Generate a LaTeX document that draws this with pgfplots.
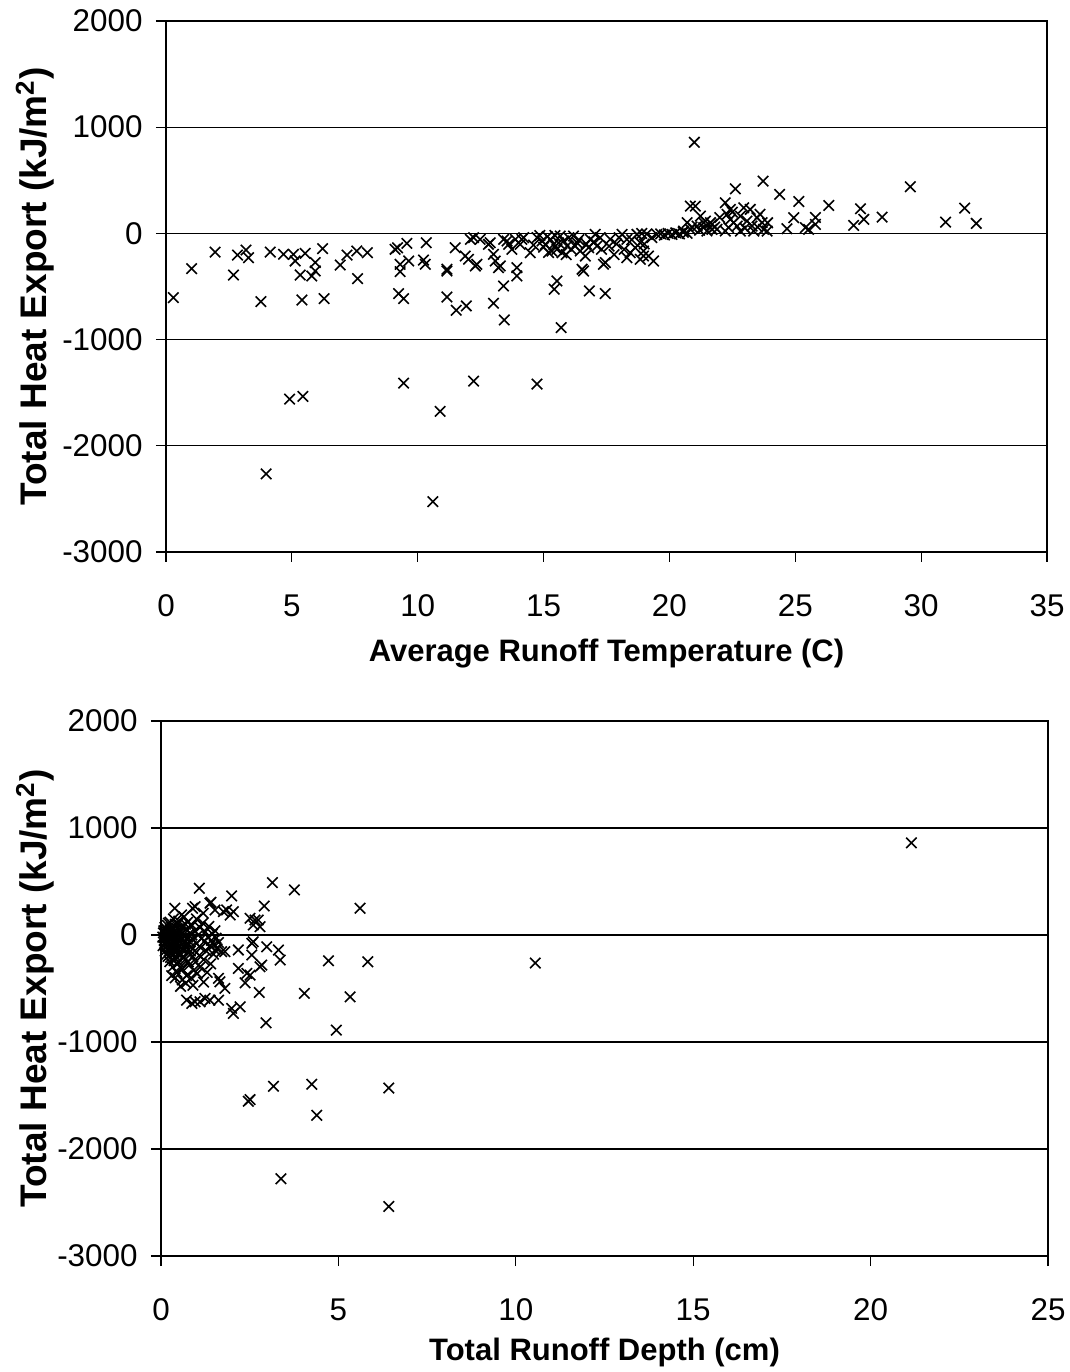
\documentclass[border=0pt]{standalone}
\usepackage{fontspec}
\setmainfont{Liberation Sans}
\usepackage{pgfplots}
\pgfplotsset{compat=1.18}
\pgfplotsset{
  heatstyle/.style={
    scale only axis, anchor=south west,
    axis line style={black, line width=1bp},
    tick align=outside, major tick length=5bp,
    tick style={black, line width=0.6bp},
    xtick pos=left, ytick pos=left,
    ymajorgrids, grid style={black, line width=0.6bp},
    ymin=-3000, ymax=2000, ytick={-3000,-2000,...,2000},
    /pgf/number format/assume math mode=true,
    /pgf/number format/1000 sep={},
    tick label style={font=\fontsize{15.7bp}{18bp}\selectfont},
    yticklabel style={anchor=east, inner sep=0pt, xshift=-6.5bp},
    xticklabel style={anchor=center, inner sep=0pt, yshift=-22bp},
    label style={font=\bfseries\fontsize{15.5bp}{18bp}\selectfont},
    clip=false,
  },
  xmark/.style={only marks, mark=x, mark size=3.7bp, line width=0.8bp, black},
}
\begin{document}
\begin{tikzpicture}
\path[use as bounding box] (0,0) rectangle (535bp,686bp);
\begin{axis}[heatstyle,
  at={(83bp,410bp)}, width=440.5bp, height=265.5bp,
  xmin=0, xmax=35, xtick={0,5,...,35},
  xlabel={Average Runoff Temperature (C)},
  xlabel style={at={(axis description cs:0.5,-0.192)}, anchor=center},
  ylabel={Total Heat Export (kJ/m\textsuperscript{2})},
  ylabel style={at={(axis description cs:-0.1487,0.5)}, anchor=center, font=\bfseries\fontsize{18.5bp}{22bp}\selectfont},
]
\addplot[xmark] table[row sep=\\] {
x y\\
0.29 -605\\ 1.02 -332\\ 1.95 -176\\ 2.68 -392\\ 2.84 -204\\ 3.18 -157\\ 3.28 -229\\ 3.77 -642\\
3.98 -2265\\ 4.14 -176\\ 4.67 -197\\ 4.91 -1560\\ 5.06 -197\\ 5.13 -260\\ 5.33 -392\\ 5.40 -627\\
5.44 -1535\\ 5.53 -188\\ 5.79 -401\\ 5.93 -275\\ 5.93 -354\\ 6.22 -144\\ 6.28 -614\\ 6.92 -298\\
7.19 -204\\ 7.58 -166\\ 7.61 -426\\ 8.00 -182\\ 9.10 -150\\ 9.20 -135\\ 9.24 -567\\ 9.30 -291\\
9.30 -360\\ 9.44 -614\\ 9.44 -1410\\ 9.57 -94\\ 9.64 -260\\ 10.23 -251\\ 10.30 -291\\ 10.34 -88\\
10.60 -2526\\ 10.89 -1676\\ 11.16 -354\\ 11.16 -599\\ 11.16 -338\\ 11.49 -135\\ 11.53 -724\\ 11.89 -213\\
11.93 -683\\ 12.02 -244\\ 12.09 -56\\ 12.22 -40\\ 12.22 -1391\\ 12.29 -307\\ 12.35 -291\\ 12.48 -56\\
12.81 -103\\ 12.88 -88\\ 13.01 -197\\ 13.01 -658\\ 13.08 -260\\ 13.21 -323\\ 13.28 -307\\ 13.41 -56\\
13.41 -495\\ 13.44 -815\\ 13.55 -72\\ 13.61 -103\\ 13.74 -150\\ 13.88 -56\\ 13.94 -323\\ 13.94 -401\\
14.07 -103\\ 14.14 -56\\ 14.21 -40\\ 14.47 -182\\ 14.74 -40\\ 14.74 -1419\\ 14.94 -72\\ 15.07 -103\\
15.27 -56\\ 15.33 -166\\ 15.40 -103\\ 15.42 -526\\ 15.53 -150\\ 15.53 -448\\ 15.66 -25\\ 15.70 -887\\
15.73 -182\\ 15.80 -72\\ 15.93 -119\\ 16.19 -25\\ 16.33 -88\\ 16.46 -166\\ 16.53 -338\\ 16.59 -354\\
16.66 -213\\ 16.79 -135\\ 16.82 -542\\ 16.86 -56\\ 17.05 -9\\ 17.12 -119\\ 17.25 -40\\ 17.38 -291\\
17.45 -567\\ 17.45 -275\\ 17.65 -56\\ 18.12 -9\\ 18.31 -56\\ 18.31 -229\\ 18.44 -182\\ 18.64 -135\\
18.71 -9\\ 18.84 -88\\ 18.84 -244\\ 18.90 0\\ 18.97 -166\\ 18.97 -213\\ 19.10 -5\\ 19.17 -213\\
19.37 -260\\ 19.50 -10\\ 19.65 -5\\ 19.80 -15\\ 19.95 0\\ 20.10 -10\\ 20.25 5\\ 20.40 -5\\
20.55 10\\ 20.70 0\\ 20.56 22\\ 20.70 101\\ 20.83 38\\ 20.83 257\\ 20.99 858\\ 21.03 257\\
21.10 69\\ 21.23 163\\ 21.36 54\\ 21.36 101\\ 21.43 116\\ 21.49 22\\ 21.63 101\\ 21.69 38\\
21.69 85\\ 21.89 38\\ 22.22 22\\ 22.22 288\\ 22.29 179\\ 22.35 54\\ 22.42 132\\ 22.42 226\\
22.55 101\\ 22.62 420\\ 22.69 69\\ 22.82 163\\ 22.82 22\\ 22.95 241\\ 23.08 116\\ 23.21 226\\
23.28 69\\ 23.35 22\\ 23.48 148\\ 23.68 101\\ 23.72 492\\ 23.74 38\\ 23.88 22\\ 24.38 367\\
24.67 44\\ 24.94 148\\ 25.14 300\\ 25.40 54\\ 25.53 38\\ 25.80 150\\ 25.80 85\\ 26.33 263\\
27.32 75\\ 27.59 232\\ 27.72 132\\ 28.45 153\\ 29.57 439\\ 30.97 106\\ 31.73 238\\ 32.19 94\\
14.85 -20\\ 15.00 -130\\ 15.15 -30\\ 15.60 -90\\ 16.00 -40\\ 16.10 -150\\ 16.40 -60\\ 16.70 -100\\
17.00 -80\\ 17.30 -150\\ 17.60 -120\\ 17.90 -100\\ 18.00 -40\\ 18.50 -60\\ 19.00 -100\\ 19.30 -40\\
18.20 -150\\ 17.80 -200\\ 21.80 60\\ 22.00 150\\ 23.00 50\\ 23.50 60\\ 23.90 100\\ 21.20 30\\
20.90 60\\ 22.50 200\\ 23.60 180\\ 15.20 -180\\ 15.90 -200\\ 16.25 -120\\ 14.60 -110\\ 15.45 -20\\
};
\end{axis}
\begin{axis}[heatstyle,
  at={(80.5bp,58bp)}, width=443.5bp, height=267.5bp,
  xmin=0, xmax=25, xtick={0,5,...,25},
  xlabel={Total Runoff Depth (cm)},
  xlabel style={at={(axis description cs:0.5,-0.18)}, anchor=center},
  ylabel={Total Heat Export (kJ/m\textsuperscript{2})},
  ylabel style={at={(axis description cs:-0.142,0.5)}, anchor=center, font=\bfseries\fontsize{18.5bp}{22bp}\selectfont},
]
\addplot[xmark] table[row sep=\\] {
x y\\
0.05 -20\\ 0.08 40\\ 0.10 -80\\ 0.12 10\\ 0.12 -150\\ 0.15 60\\ 0.15 -30\\ 0.18 -100\\
0.18 90\\ 0.20 -10\\ 0.20 -200\\ 0.22 30\\ 0.22 -60\\ 0.25 120\\ 0.25 -130\\ 0.25 -250\\
0.28 0\\ 0.28 -40\\ 0.30 70\\ 0.30 -90\\ 0.30 -170\\ 0.32 20\\ 0.33 -300\\ 0.35 -20\\
0.35 150\\ 0.35 -60\\ 0.38 40\\ 0.38 -120\\ 0.40 -220\\ 0.40 100\\ 0.42 -10\\ 0.42 -160\\
0.45 60\\ 0.45 -80\\ 0.45 -350\\ 0.48 10\\ 0.48 -40\\ 0.50 -260\\ 0.50 130\\ 0.52 -110\\
0.55 30\\ 0.55 -190\\ 0.58 -30\\ 0.58 80\\ 0.60 -140\\ 0.60 -320\\ 0.62 0\\ 0.65 -70\\
0.65 170\\ 0.68 -230\\ 0.70 50\\ 0.70 -120\\ 0.72 -380\\ 0.75 -20\\ 0.75 120\\ 0.78 -170\\
0.80 -60\\ 0.80 -280\\ 0.82 20\\ 0.85 -110\\ 0.85 -400\\ 0.88 90\\ 0.90 -40\\ 0.90 -200\\
0.92 -330\\ 0.95 40\\ 0.95 -150\\ 0.98 -250\\ 1.00 -80\\ 1.00 150\\ 1.02 -360\\ 1.05 0\\
1.08 -190\\ 1.10 70\\ 1.10 -300\\ 1.12 -120\\ 1.15 -30\\ 1.18 110\\ 1.20 -230\\ 1.22 -60\\
1.25 30\\ 1.28 -150\\ 1.30 -350\\ 1.32 -20\\ 1.35 80\\ 1.38 -100\\ 1.40 -270\\ 1.42 -50\\
1.45 10\\ 1.48 -180\\ 1.50 -90\\ 1.52 40\\ 1.55 -30\\ 1.58 -130\\ 1.62 -70\\ 0.60 -420\\
0.90 -470\\ 0.70 -450\\ 1.20 -440\\ 0.40 -400\\ 0.30 -380\\ 0.55 -480\\
0.06 -100\\ 0.07 20\\ 0.09 -50\\ 0.11 70\\ 0.13 -120\\ 0.14 -10\\ 0.16 -180\\ 0.17 30\\
0.19 -70\\ 0.21 110\\ 0.23 -150\\ 0.24 -20\\ 0.26 50\\ 0.27 -210\\ 0.29 -110\\ 0.31 -30\\
0.34 -140\\ 0.36 60\\ 0.37 -240\\ 0.39 -80\\ 0.41 20\\ 0.43 -200\\ 0.44 -120\\ 0.46 -20\\
0.47 100\\ 0.49 -170\\ 0.51 -60\\ 0.53 40\\ 0.54 -300\\ 0.57 -120\\ 0.59 20\\ 0.63 -200\\
0.66 -20\\ 0.69 100\\ 0.73 -80\\ 0.77 -250\\ 0.83 -150\\ 0.87 0\\
1.08 437\\ 3.14 490\\ 3.76 421\\ 5.61 250\\ 1.99 365\\ 1.41 306\\ 0.89 250\\ 2.91 271\\
1.85 234\\ 1.95 187\\ 2.04 218\\ 2.51 156\\ 2.65 140\\ 2.74 140\\ 2.79 78\\ 2.60 94\\
0.39 250\\ 0.58 187\\ 0.96 265\\ 1.19 203\\ 1.52 234\\ 1.80 -156\\ 2.18 -140\\ 2.60 -63\\
2.98 -110\\ 3.31 -140\\ 3.36 -234\\ 2.56 -187\\ 2.79 -297\\ 2.84 -281\\ 2.18 -312\\ 2.42 -359\\
2.51 -375\\ 2.37 -447\\ 1.66 -437\\ 1.80 -499\\ 2.77 -537\\ 4.04 -546\\ 4.72 -241\\ 5.83 -250\\
5.33 -578\\ 2.96 -821\\ 4.94 -889\\ 0.72 -609\\ 0.87 -640\\ 0.96 -624\\ 1.10 -624\\ 1.24 -593\\
1.38 -609\\ 1.62 -609\\ 1.99 -686\\ 2.04 -733\\ 2.23 -671\\ 2.46 -1554\\ 2.51 -1538\\ 3.17 -1414\\
4.25 -1395\\ 4.39 -1685\\ 6.42 -1430\\ 3.38 -2278\\ 6.42 -2537\\ 10.55 -262\\ 21.15 861\\
1.38 297\\ 1.76 218\\ 2.56 -78\\ 1.52 -140\\ 1.71 -156\\ 1.62 -405\\
};
\end{axis}
\end{tikzpicture}
\end{document}
